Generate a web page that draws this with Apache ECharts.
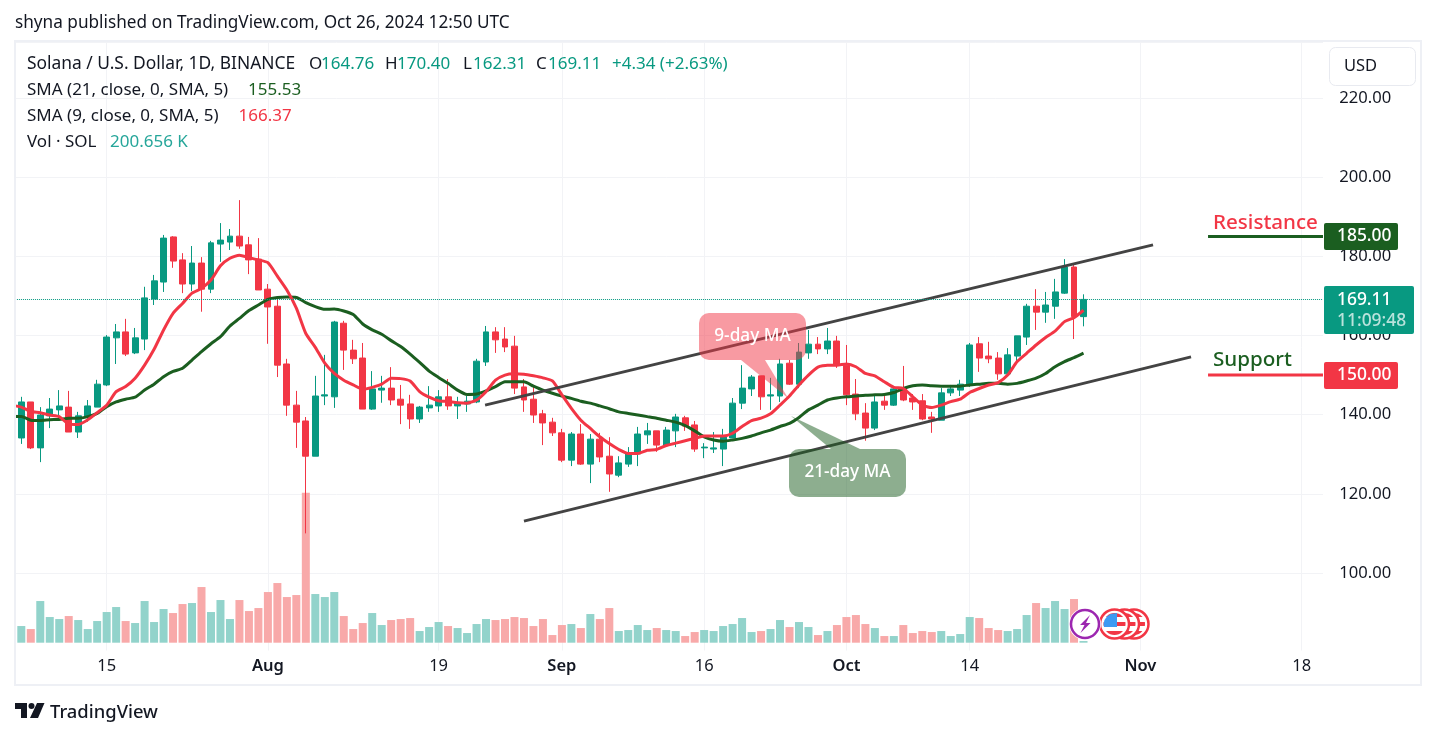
<!DOCTYPE html>
<html><head><meta charset="utf-8">
<style>html,body{margin:0;padding:0;background:#fff}#c{width:1437px;height:738px}</style>
<script src="https://cdn.jsdelivr.net/npm/echarts@6/dist/echarts.min.js"></script>
</head><body><div id="c"></div>
<script>
const tickLabels = {'2024-07-15':'15','2024-08-01':'{m|Aug}','2024-08-19':'19','2024-09-01':'{m|Sep}','2024-09-16':'16','2024-10-01':'{m|Oct}','2024-10-14':'14','2024-11-01':'{m|Nov}','2024-11-18':'18'};
const opens = [139,134.1,143.2,131.6,139.7,141.2,141.9,135.6,139.4,141.9,147.5,159.4,160.9,155.6,159.1,169.2,173.5,184.9,179.1,173.0,178.3,171.7,183.1,183.6,185.1,182.9,179.3,171.7,167.4,152.8,142.4,138.4,129.5,144.7,144.5,163.1,156.3,154.3,141.4,146.2,146.7,143.9,142.7,138.9,141.7,142.2,144.5,142.2,142.7,143.2,153.3,160.9,159.1,157.3,147.0,143.9,140.2,138.1,135.4,128.5,135.1,127.5,133.8,129.5,124.7,127.5,130.1,134.9,135.9,132.3,135.9,139.2,137.4,131.6,131.3,131.3,134.1,142.9,146.5,149.8,144.7,144.7,153.0,147.7,155.6,157.8,156.6,158.6,152.5,145.2,140.4,136.6,143.4,142.4,146.5,144.2,143.5,139.4,138.6,145.5,146.2,147.5,157.9,154.8,154.3,150.3,154.8,159.6,167.4,165.9,167.4,170.7,177.3,164.76];
const closes = [143,143.2,131.6,139.9,141.4,142.2,135.6,139.7,142.2,147.7,159.6,160.9,155.3,159.4,169.5,173.8,184.6,178.8,173.0,178.3,171.7,183.4,184.1,185.1,182.6,179.1,171.5,167.2,152.5,142.4,138.1,129.5,144.7,145.0,163.4,156.3,154.1,141.4,146.5,146.7,143.7,142.4,138.9,141.9,142.4,144.5,142.2,142.9,143.4,153.5,160.9,158.9,157.1,146.7,143.7,139.9,137.9,135.4,128.5,135.1,127.5,133.8,129.3,125.0,127.8,130.3,135.1,135.9,132.3,136.1,139.4,137.1,131.3,131.8,131.6,134.4,142.9,146.7,149.5,144.5,145.0,152.8,147.7,155.8,157.8,156.6,158.6,152.5,145.0,140.2,136.6,143.2,142.4,146.5,143.7,143.2,138.9,138.9,145.5,146.5,147.7,157.6,154.3,154.1,150.3,155.1,159.9,167.4,165.9,167.7,171.0,177.3,164.76,169.11];
const highs = [145,144.5,143.2,141.9,144.2,146.2,146.0,140.7,143.7,148.8,160.1,162.9,164.2,161.9,172.3,175.3,185.4,185.1,180.8,182.6,179.8,183.9,188.4,186.9,194.2,184.9,184.6,173.0,169.2,154.1,146.0,139.4,149.8,155.1,163.7,163.7,158.9,158.1,151.0,149.8,152.0,147.5,145.0,142.2,147.2,146.2,149.0,144.5,144.7,154.1,162.4,162.1,162.1,159.9,149.0,147.5,141.2,139.2,136.4,135.6,137.6,135.1,135.4,134.3,129.5,131.8,136.9,137.9,135.9,136.9,140.2,139.7,138.4,132.8,135.6,136.4,144.2,152.5,150.0,149.8,149.3,154.1,153.8,158.1,161.4,159.6,161.9,159.9,157.6,149.0,142.9,144.7,145.0,146.9,152.3,145.2,145.2,140.7,146.7,147.5,148.8,158.1,159.6,158.4,155.8,156.8,159.9,168.0,171.7,171.0,174.3,179.3,177.8,170.40];
const lows = [137,132.6,131.3,128.0,136.6,138.7,135.6,134.1,138.2,141.9,147.2,152.8,154.8,155.3,156.3,167.7,171.0,177.1,170.7,171.2,166.0,170.7,178.6,181.6,181.9,175.5,171.5,157.9,149.5,139.7,131.6,110,129.5,142.4,141.7,151.3,152.8,141.4,141.2,143.0,142.4,137.6,136.4,137.9,140.7,140.7,141.2,138.9,140.7,142.9,152.3,155.6,155.8,145.2,140.7,137.9,132.3,134.6,128.0,127.0,127.3,122.7,128.0,120.5,124.2,126.8,127.0,132.6,130.6,132.3,131.8,135.9,130.6,129.0,130.3,127.0,134.1,141.4,144.7,141.2,141.2,143.2,147.5,146.7,154.1,155.3,155.3,151.8,142.4,138.6,133.4,136.1,141.2,142.2,143.4,141.2,138.6,135.4,138.6,144.7,144.7,147.0,150.8,153.0,148.8,149.8,153.3,157.6,161.4,163.2,164.2,170.5,159.1,162.31];
const volumes = [5600,2000,1640,5000,3080,2840,3200,2720,1640,2600,3680,4280,2600,2360,5000,2480,4040,3560,4640,4760,6680,3680,5120,2840,5120,3800,4160,6080,7160,5480,5720,18000,5840,5480,6080,3200,1640,2360,3560,2120,2720,2840,2960,1400,1880,2480,2000,1760,1160,2240,2840,2720,2840,3080,2960,2000,2840,920,2120,2240,1760,3440,2840,4160,1400,1520,2120,1520,1760,1520,1400,800,1280,1520,1400,2000,2240,2960,1280,1400,1640,2720,1880,2480,1880,920,1400,2120,3080,3320,2240,1760,800,800,2120,1160,1400,1280,1400,800,1040,3080,2960,1760,1520,1400,1640,3320,4760,4160,5000,4040,5240,200.656];
const sma9 = [142.4,141.9,140.8,140.5,139.9,139.5,137.6,137.5,138.7,140.5,142.4,145.8,147.1,149.2,152.5,156.5,161.4,165.6,168.1,170.7,171.9,174.0,177.6,179.5,180.3,179.7,179.1,178.4,175.0,171.5,166.9,160.5,157.0,153.0,150.4,148.7,147.5,146.4,146.9,147.7,149.2,149.1,148.5,145.8,144.4,143.5,143.3,143.0,142.9,143.7,145.8,148.7,150.0,150.3,150.2,149.8,149.3,148.5,145.0,141.6,138.6,136.5,134.4,132.7,131.2,130.2,130.2,131.0,131.2,132.2,132.8,133.4,134.0,134.6,134.6,134.6,135.3,137.0,138.5,139.1,140.2,142.4,144.7,147.5,150.0,152.0,152.5,152.5,152.8,152.1,150.4,149.8,148.3,146.9,146.6,144.5,142.4,141.8,142.4,143.3,143.9,145.6,146.6,147.5,148.1,150.0,153.4,155.5,157.6,159.5,161.1,163.5,164.5,166.37];
const sma21 = [139.5,139.5,138.6,138.5,138.7,138.8,139.1,139.1,139.5,140.3,142.0,143.2,143.9,144.4,146.2,147.7,149.6,150.9,151.7,153.8,155.9,157.9,159.7,162.4,164.3,166.3,167.7,169.1,169.6,169.7,169.6,168.3,167.3,166.6,166.7,166.2,165.3,162.9,161.4,160.3,158.7,157.2,155.3,153.2,151.0,149.4,147.9,146.2,145.1,145.2,146.0,147.1,148.3,148.3,148.3,147.2,146.2,145.4,144.7,144.1,143.4,142.9,142.2,141.5,140.7,140.3,139.9,139.5,139.1,138.6,138.1,137.2,135.9,134.4,133.6,133.3,133.6,134.0,134.6,135.4,136.1,137.0,137.8,139.3,141.2,142.4,143.7,144.2,144.5,144.7,144.9,145.0,145.1,145.6,146.6,147.3,147.5,147.3,147.2,147.2,147.2,147.5,147.7,147.9,147.9,147.7,147.9,148.5,149.2,150.4,152.1,153.4,154.4,155.53];
// drawn lines: [time position in bars, price]
const trendUpper = [[50.4,142.4],[120.83,182.9]];
const trendLower = [[54.5,113.1],[124.84,154.6]];
const resistanceLine = [[126.63,185],[138.75,185]];
const supportLine = [[126.63,150],[138.75,150]];
const lastPrice = 169.11;

const UP='#089981', DOWN='#F23645', GREEN='#1B5E20', INK='#131722', GRID='#F2F3F6';
const FONT='"Noto Sans"';
const categories=[];
for(let d=new Date(Date.UTC(2024,6,5)),i=0;i<139;i++,d=new Date(d.getTime()+864e5)) categories.push(d.toISOString().slice(0,10));
const showTick=(i,v)=>tickLabels[v]!==undefined;
const candles=opens.map((o,i)=>[o,closes[i],lows[i],highs[i]]);
const volData=volumes.map((v,i)=>({value:v,itemStyle:{color:closes[i]>=opens[i]?'#92D3CB':'#F8A9A9'}}));

const txt=(x,y,text,fill,size,extra)=>({type:'text',z:80,silent:true,x,y:y+1,style:Object.assign({text,fill,font:`${size||17}px ${FONT}`,textVerticalAlign:'middle',textAlign:'left'},extra||{})});
const ma=(name,data,color)=>({name,type:'line',data,showSymbol:false,smooth:0.2,z:3,lineStyle:{color,width:3},itemStyle:{color},xAxisIndex:0,yAxisIndex:0,silent:true});
const seg=(name,data,color,w)=>({name,type:'line',data,showSymbol:false,z:4,lineStyle:{color,width:w},xAxisIndex:2,yAxisIndex:0,silent:true});
const stripes=()=>{const s=[];const c=['#F23645','#fff'];const n=5;for(let i=0;i<n;i++){s.push({offset:i/n,color:c[i%2]});s.push({offset:(i+1)/n,color:c[i%2]});}return {type:'linear',x:0,y:0,x2:0,y2:1,colorStops:s};};
const flag=(cx,cy)=>[
 {type:'circle',z:75,silent:true,shape:{cx,cy,r:14.5},style:{fill:'#fff',stroke:'#F23645',lineWidth:2.5}},
 {type:'circle',z:75,silent:true,shape:{cx,cy,r:11},style:{fill:stripes()}}
];
const graphics=[
 {type:'rect',z:50,silent:true,shape:{x:0,y:0,width:15,height:738},style:{fill:'#fff'}},
 {type:'rect',z:50,silent:true,shape:{x:1323,y:42,width:98,height:642},style:{fill:'#fff'}},
 {type:'rect',z:50,silent:true,shape:{x:15,y:650.5,width:1310,height:3},style:{fill:'#fff'}},
 {type:'rect',z:51,silent:true,shape:{x:15,y:41,width:1406,height:644},style:{fill:'none',stroke:'#EEF0F5',lineWidth:2}},
 txt(15,22,'shyna published on TradingView.com, Oct 26, 2024 12:50 UTC',INK,17.2),
 txt(27,63,'Solana / U.S. Dollar, 1D, BINANCE',INK,17.4),
 txt(309,63,'O',INK),txt(321,63,'164.76',UP),
 txt(385,63,'H',INK),txt(397,63,'170.40',UP),
 txt(463,63,'L',INK),txt(473,63,'162.31',UP),
 txt(536,63,'C',INK),txt(548,63,'169.11',UP),
 txt(612,63,'+4.34 (+2.63%)',UP),
 txt(27,89,'SMA (21, close, 0, SMA, 5)',INK),txt(248,89,'155.53',GREEN),
 txt(27,115,'SMA (9, close, 0, SMA, 5)',INK),txt(238.5,115,'166.37',DOWN),
 txt(27,141,'Vol · SOL',INK),txt(110,141,'200.656 K','#26A69A'),
 {type:'rect',z:80,silent:true,shape:{x:1329.5,y:47.5,width:86,height:38,r:6},style:{fill:'#fff',stroke:'#E8EAF0',lineWidth:1}},
 txt(1344,65,'USD',INK,16.5),
 // callouts
 {type:'polygon',z:55,silent:true,shape:{points:[[741,360],[765,360],[788,398]]},style:{fill:'rgba(242,54,69,0.5)'}},
 {type:'rect',z:55,silent:true,shape:{x:699,y:313,width:107,height:47,r:10},style:{fill:'rgba(242,54,69,0.5)'}},
 txt(752.5,335.5,'9-day MA','#fff',17,{textAlign:'center',font:`500 17.2px ${FONT}`}),
 {type:'polygon',z:55,silent:true,shape:{points:[[791,416],[831,449],[860,449]]},style:{fill:'rgba(27,94,32,0.5)'}},
 {type:'rect',z:55,silent:true,shape:{x:789,y:449,width:117,height:48,r:10},style:{fill:'rgba(27,94,32,0.5)'}},
 txt(847.5,471.5,'21-day MA','#fff',17,{textAlign:'center',font:`500 17.2px ${FONT}`}),
 // annotations
 txt(1213,222,'Resistance',DOWN,21,{font:`500 20.6px ${FONT}`}),
 txt(1213,359,'Support',GREEN,21,{font:`500 20.6px ${FONT}`}),
 // badges
 {type:'rect',z:70,silent:true,shape:{x:1324,y:223,width:74,height:27,r:2},style:{fill:GREEN}},
 txt(1337,235.5,'185.00','#fff',17,{font:`500 17.4px ${FONT}`}),
 {type:'rect',z:70,silent:true,shape:{x:1324,y:362,width:74,height:27,r:2},style:{fill:DOWN}},
 txt(1337,374.5,'150.00','#fff',17,{font:`500 17.4px ${FONT}`}),
 {type:'rect',z:70,silent:true,shape:{x:1324,y:286,width:90,height:48,r:2},style:{fill:UP}},
 txt(1337,299,'169.11','#fff',17,{font:`500 17.4px ${FONT}`}),
 txt(1337,320,'11:09:48','rgba(255,255,255,0.72)',17,{font:`500 17.4px ${FONT}`}),
 // event icons
 ...flag(1134,624),...flag(1124.5,624),...flag(1114.5,624),
 {type:'polygon',z:76,silent:true,shape:{points:[[1117,627],[1104,627],[1103.5,624],[1104.5,620],[1107,616.5],[1110.5,614],[1117,613]]},style:{fill:'#3D9AF2'}},
 {type:'circle',z:77,silent:true,shape:{cx:1085,cy:624,r:15},style:{fill:'#fff',stroke:'#fff',lineWidth:2}},
 {type:'circle',z:77,silent:true,shape:{cx:1085,cy:624,r:14},style:{fill:'#fff',stroke:'#9C27B0',lineWidth:2.5}},
 {type:'polygon',z:78,silent:true,shape:{points:[[1090,615],[1080,625],[1084.5,625],[1080.5,633],[1090.5,623],[1086,623]]},style:{fill:'#9C27B0'}},
 // logo
 {type:'polygon',z:80,silent:true,shape:{points:[[15,703],[27,703],[27,718],[21,718],[21,709],[15,709]]},style:{fill:INK}},
 {type:'circle',z:80,silent:true,shape:{cx:31.5,cy:706,r:3},style:{fill:INK}},
 {type:'polygon',z:80,silent:true,shape:{points:[[37,703],[44.5,703],[38,718],[30,718]]},style:{fill:INK}},
 txt(50,711.5,'TradingView',INK,18,{font:`500 18.4px ${FONT}`})
];
const GL=7.08, GW=139*9.484;
const chart=echarts.init(document.getElementById('c'),null,{renderer:'canvas'});
chart.setOption({
 animation:false,backgroundColor:'#fff',
 grid:[
  {left:GL,width:GW,top:42.6,height:609.5,containLabel:false},
  {left:GL,width:GW,top:492.7,height:150,containLabel:false}
 ],
 xAxis:[
  {type:'category',gridIndex:0,z:0,data:categories,boundaryGap:true,axisLine:{show:false},axisTick:{show:false},
   axisLabel:{interval:showTick,margin:6,fontFamily:FONT,fontSize:16.5,color:INK,formatter:v=>tickLabels[v]||'',rich:{m:{fontFamily:FONT,fontSize:16.5,fontWeight:600,color:INK}}},
   splitLine:{show:true,alignWithLabel:true,interval:showTick,lineStyle:{color:GRID,width:1}}},
  {type:'category',gridIndex:1,data:categories,boundaryGap:true,axisLine:{show:false},axisTick:{show:false},axisLabel:{show:false},splitLine:{show:false}},
  {type:'value',gridIndex:0,min:0,max:139,show:false,splitLine:{show:false}}
 ],
 yAxis:[
  {type:'value',gridIndex:0,position:'right',min:80,max:234,interval:20,z:0,axisLine:{show:false},axisTick:{show:false},axisLabel:{show:false},
   splitLine:{show:true,lineStyle:{color:GRID,width:1}}},
  {type:'value',gridIndex:1,min:0,max:18000,show:false,splitLine:{show:false}},
  {type:'value',gridIndex:0,position:'right',min:80,max:234,interval:20,z:60,axisLine:{show:false},axisTick:{show:false},
   axisLabel:{margin:14,fontFamily:FONT,fontSize:16.6,color:INK,padding:[2,0,0,0],showMinLabel:false,showMaxLabel:false,formatter:v=>v.toFixed(2)},
   splitLine:{show:false}}
 ],
 series:[
  {name:'Vol',type:'bar',xAxisIndex:1,yAxisIndex:1,data:volData,barWidth:8,z:1,silent:true},
  {name:'SOLUSD',type:'candlestick',xAxisIndex:0,yAxisIndex:0,data:candles,barWidth:6.4,z:2,silent:true,
   itemStyle:{color:UP,color0:DOWN,borderColor:UP,borderColor0:DOWN,borderWidth:1},
   markLine:{silent:true,symbol:'none',animation:false,label:{show:false},data:[{yAxis:lastPrice}],lineStyle:{color:UP,type:'dotted',width:1}}},
  ma('SMA 21',sma21,GREEN),
  ma('SMA 9',sma9,DOWN),
  seg('Channel upper',trendUpper,'#434343',3),
  seg('Channel lower',trendLower,'#434343',3),
  seg('Resistance',resistanceLine,GREEN,3),
  seg('Support',supportLine,DOWN,3)
 ],
 graphic:{elements:graphics}
});
</script></body></html>
